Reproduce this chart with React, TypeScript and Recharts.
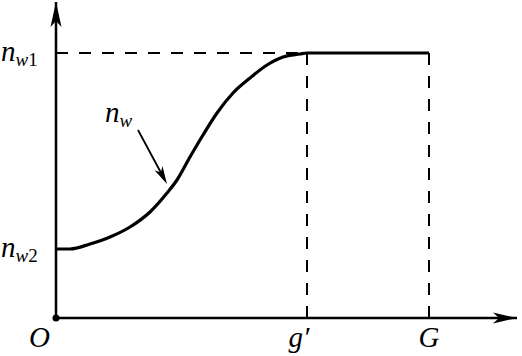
import React from 'react';
import { LineChart, Line, XAxis, YAxis, ReferenceLine, ReferenceDot } from 'recharts';

// Schematic units (arbitrary)
const curveX = [0, 14, 34, 54, 74, 94, 111, 121, 134, 147, 161, 177, 194, 211, 227, 244, 251, 373];
const curveY = [69, 69, 74, 81, 91, 106, 125, 138, 161, 183, 205, 225, 240, 253, 261, 264, 265, 265];
const xTicks = [0, 251, 373];
const xTickLabels = ['O', "g\u2032", 'G'];
const yTicks = [69, 265];
const yTickLabels = ['w2', 'w1'];
const X_MAX = 461;
const Y_MAX = 316;
const N_W1 = 265;
const G_PRIME = 251;
const G_END = 373;

const data = curveX.map((x, i) => ({ x, y: curveY[i] }));

const FONT = '"Liberation Serif", "DejaVu Serif", serif';

const XTick = (props: any) => {
  const { x, y, payload } = props;
  const idx = xTicks.indexOf(payload.value);
  const label = xTickLabels[idx];
  let anchor: any = 'middle';
  let dx = 0;
  if (idx === 0) { anchor = 'end'; dx = -6; }
  if (idx === 1) { dx = -8; }
  return (
    <text x={x + dx} y={y + 29} textAnchor={anchor} fontFamily={FONT} fontStyle="italic" fontSize={29} fill="#000">
      {label}
    </text>
  );
};

const YTick = (props: any) => {
  const { y, payload } = props;
  const idx = yTicks.indexOf(payload.value);
  const sub = yTickLabels[idx];
  return (
    <text x={1} y={y + 8} textAnchor="start" fontFamily={FONT} fontSize={29} fill="#000">
      <tspan fontStyle="italic">n</tspan>
      <tspan fontStyle="italic" fontSize={19} dy={5}>{sub[0]}</tspan>
      <tspan fontSize={19}>{sub.slice(1)}</tspan>
    </text>
  );
};

const UpArrow = (props: any) => {
  const { cx, cy } = props;
  return <polygon points={`${cx},${cy} ${cx + 5.5},${cy + 25} ${cx},${cy + 19} ${cx - 5.5},${cy + 25}`} fill="#000" />;
};

const RightArrow = (props: any) => {
  const { cx, cy } = props;
  return <polygon points={`${cx},${cy} ${cx - 24},${cy - 5.5} ${cx - 18},${cy} ${cx - 24},${cy + 5.5}`} fill="#000" />;
};

const PointerArrow = (props: any) => {
  const { x1, y1, x2, y2 } = props;
  const ang = Math.atan2(y2 - y1, x2 - x1);
  const len = 18;
  const w = 4.5;
  const bx = x2 - len * Math.cos(ang);
  const by = y2 - len * Math.sin(ang);
  const px = -Math.sin(ang) * w;
  const py = Math.cos(ang) * w;
  const nx = x2 - (len - 5) * Math.cos(ang);
  const ny = y2 - (len - 5) * Math.sin(ang);
  return (
    <g>
      <line x1={x1} y1={y1} x2={nx} y2={ny} stroke="#000" strokeWidth={1.8} />
      <polygon points={`${x2},${y2} ${bx + px},${by + py} ${nx},${ny} ${bx - px},${by - py}`} fill="#000" />
    </g>
  );
};

const NwLabel = (props: any) => {
  const { cx, cy } = props;
  return (
    <text x={cx} y={cy} fontFamily={FONT} fontSize={29} fill="#000">
      <tspan fontStyle="italic">n</tspan>
      <tspan fontStyle="italic" fontSize={19} dy={5}>w</tspan>
    </text>
  );
};

export default function App() {
  return (
    <div style={{ position: 'absolute', left: 0, top: 0, width: 522, height: 356, background: '#fff' }}>
      <LineChart width={522} height={356} data={data} margin={{ top: 2, right: 5, bottom: 0, left: 0 }}>
        <XAxis
          dataKey="x"
          type="number"
          domain={[0, X_MAX]}
          ticks={xTicks}
          tick={<XTick />}
          tickLine={false}
          tickSize={0}
          tickMargin={0}
          height={38}
          axisLine={{ stroke: '#000', strokeWidth: 2.5 }}
          allowDataOverflow
          interval={0}
        />
        <YAxis
          type="number"
          domain={[0, Y_MAX]}
          ticks={yTicks}
          tick={<YTick />}
          tickLine={false}
          tickSize={0}
          tickMargin={0}
          width={56}
          axisLine={{ stroke: '#000', strokeWidth: 2.5 }}
          allowDataOverflow
          interval={0}
        />
        <ReferenceLine segment={[{ x: 0, y: N_W1 }, { x: G_PRIME, y: N_W1 }]} stroke="#000" strokeWidth={2} strokeDasharray="12 11" />
        <ReferenceLine segment={[{ x: G_PRIME, y: N_W1 }, { x: G_PRIME, y: 0 }]} stroke="#000" strokeWidth={2} strokeDasharray="12 11" />
        <ReferenceLine segment={[{ x: G_END, y: N_W1 }, { x: G_END, y: 0 }]} stroke="#000" strokeWidth={2} strokeDasharray="12 11" />
        <Line dataKey="y" type="monotone" stroke="#000" strokeWidth={3.2} dot={false} isAnimationActive={false} />
        <ReferenceLine segment={[{ x: 82, y: 188 }, { x: 111, y: 134 }]} shape={<PointerArrow />} ifOverflow="visible" />
        <ReferenceDot x={49} y={196} r={0} shape={<NwLabel />} ifOverflow="visible" />
        <ReferenceDot x={0} y={0} r={3.5} fill="#000" stroke="none" ifOverflow="visible" />
        <ReferenceDot x={0} y={Y_MAX} shape={<UpArrow />} ifOverflow="visible" />
        <ReferenceDot x={X_MAX} y={0} shape={<RightArrow />} ifOverflow="visible" />
      </LineChart>
    </div>
  );
}
